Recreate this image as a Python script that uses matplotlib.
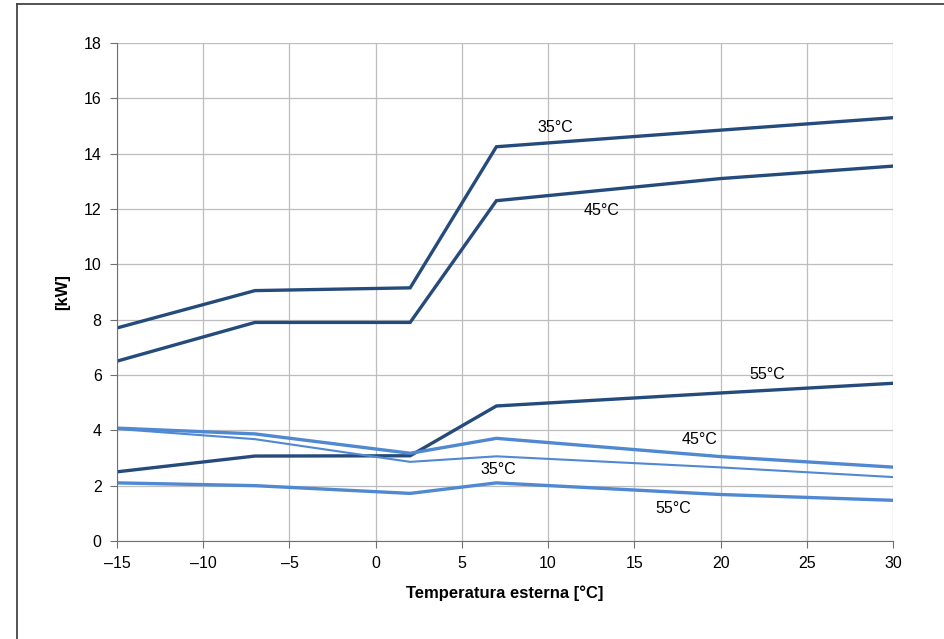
import matplotlib
matplotlib.use("Agg")
import matplotlib.pyplot as plt
from matplotlib.lines import Line2D

plt.rcParams["font.family"] = ["Liberation Sans", "DejaVu Sans"]

# temperature points (outside temp, °C)
temps = [-15, -7, 2, 7, 20, 30]

# heating power, dark series [kW]
kw_35 = [7.7, 9.05, 9.15, 14.25, 14.85, 15.3]
kw_45 = [6.5, 7.9, 7.9, 12.3, 13.1, 13.55]
kw_55 = [2.5, 3.07, 3.08, 4.88, 5.35, 5.7]

# light series [kW]
lt_45 = [4.08, 3.87, 3.17, 3.71, 3.05, 2.67]
lt_35 = [4.05, 3.68, 2.86, 3.06, 2.66, 2.31]
lt_55 = [2.1, 2.0, 1.72, 2.1, 1.68, 1.47]

dark = "#254b7c"
light = "#5088d2"

fig = plt.figure(figsize=(9.45, 6.39), dpi=100)
ax = fig.add_axes([0.1238, 0.1534, 0.8212, 0.7793])

ax.plot(temps, kw_35, color=dark, lw=2.4, solid_joinstyle="miter")
ax.plot(temps, kw_45, color=dark, lw=2.4, solid_joinstyle="miter")
ax.plot(temps, kw_55, color=dark, lw=2.4, solid_joinstyle="miter")
ax.plot(temps, lt_45, color=light, lw=2.4)
ax.plot(temps, lt_35, color=light, lw=1.5)
ax.plot(temps, lt_55, color=light, lw=2.4)

# curve labels
ax.text(10.4, 14.93, "35°C", fontsize=11.5, ha="center", va="center")
ax.text(13.1, 11.96, "45°C", fontsize=11.5, ha="center", va="center")
ax.text(22.7, 6.0, "55°C", fontsize=11.5, ha="center", va="center")
ax.text(18.8, 3.65, "45°C", fontsize=11.5, ha="center", va="center")
ax.text(7.1, 2.57, "35°C", fontsize=11.5, ha="center", va="center")
ax.text(17.25, 1.19, "55°C", fontsize=11.5, ha="center", va="center")

ax.set_xlim(-15, 30)
ax.set_ylim(0, 18)
ax.set_xticks(range(-15, 31, 5))
ax.set_xticklabels([str(t).replace("-", "\u2013") for t in range(-15, 31, 5)])
ax.set_yticks(range(0, 19, 2))
ax.grid(True, color="#bdbdbd", lw=0.9)
ax.set_axisbelow(True)
for s in ["top", "right"]:
    ax.spines[s].set_visible(False)
for s in ["left", "bottom"]:
    ax.spines[s].set_color("#707070")
ax.tick_params(direction="out", length=5, color="#707070", labelsize=11.5, pad=6)

ax.set_xlabel("Temperatura esterna [°C]", fontsize=12, fontweight="bold", labelpad=10)
ax.set_ylabel("[kW]", fontsize=12, fontweight="bold", labelpad=10)

# outer chart border (only top and left edges are visible in the crop)
fig.lines.append(Line2D([17 / 945, 1], [1 - 4 / 639, 1 - 4 / 639], transform=fig.transFigure,
                        color="#444444", lw=1.3))
fig.lines.append(Line2D([17 / 945, 17 / 945], [0, 1 - 4 / 639], transform=fig.transFigure,
                        color="#444444", lw=1.3))

fig.savefig("out.png", dpi=100)
